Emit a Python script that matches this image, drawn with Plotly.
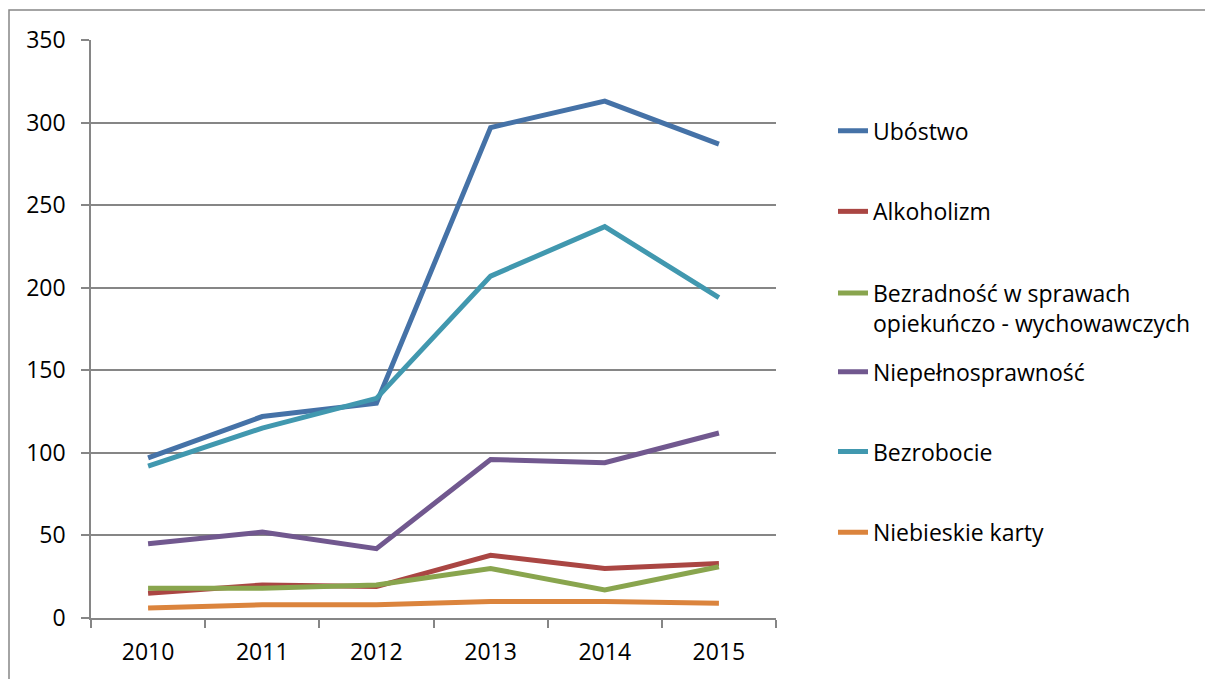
import plotly.graph_objects as go

years = ["2010", "2011", "2012", "2013", "2014", "2015"]

ubostwo = [97, 122, 130, 297, 313, 287]
alkoholizm = [15, 20, 19, 38, 30, 33]
bezradnosc = [18, 18, 20, 30, 17, 31]
niepelnosprawnosc = [45, 52, 42, 96, 94, 112]
bezrobocie = [92, 115, 133, 207, 237, 194]
niebieskie = [6, 8, 8, 10, 10, 9]

names = [
    "Ubóstwo",
    "Alkoholizm",
    "Bezradność w sprawach<br>opiekuńczo - wychowawczych",
    "Niepełnosprawność",
    "Bezrobocie",
    "Niebieskie karty",
]
series = [ubostwo, alkoholizm, bezradnosc, niepelnosprawnosc, bezrobocie, niebieskie]
colors = ["#4572A7", "#AA4643", "#89A54E", "#71588F", "#4198AF", "#DB843D"]

# page has an 8px body margin; figure coordinates = page coordinates - 8
OFF = 8
W, H = 1213 - OFF, 679 - OFF
L, R, T, B = 91 - OFF, 776 - OFF, 40 - OFF, 620 - OFF
pw, ph = R - L, B - T

def px_to_paper_x(px):
    return (px - OFF - L) / pw

def px_to_paper_y(py):
    return (B - (py - OFF)) / ph

legend_centers = [131, 212, 309, 373, 453, 534]

FONT = "Open Sans"
FS = 23
fig = go.Figure()
layout_legends = {}
for i, (nm, vals, col) in enumerate(zip(names, series, colors)):
    key = "legend" if i == 0 else f"legend{i+1}"
    fig.add_trace(go.Scatter(
        x=years, y=vals, mode="lines", name=nm,
        line=dict(color=col, width=5),
        legend=key,
    ))
    layout_legends[key] = dict(
        x=px_to_paper_x(833), xanchor="left",
        y=px_to_paper_y(legend_centers[i]), yanchor="middle",
        bgcolor="rgba(0,0,0,0)", borderwidth=0,
        font=dict(family=FONT, size=FS, color="#000000"),
        valign="top", itemwidth=30,
    )

fig.update_layout(
    width=W, height=H,
    margin=dict(l=L, r=W - R, t=T, b=H - B, pad=0),
    paper_bgcolor="white", plot_bgcolor="white",
    font=dict(family=FONT, size=FS, color="#000000"),
    showlegend=True,
    **layout_legends,
)

fig.update_xaxes(
    type="category", range=[-0.5, 5.5],
    showline=True, linecolor="#868686", linewidth=1.5,
    ticks="outside", tickson="boundaries", ticklen=8, tickcolor="#868686", tickwidth=1.5,
    showgrid=False, zeroline=False, ticklabelstandoff=13,
    tickfont=dict(family=FONT, size=FS, color="#000000"),
)
fig.update_yaxes(
    range=[0, 350], dtick=50, tick0=0,
    showline=True, linecolor="#868686", linewidth=1.5,
    ticks="outside", ticklen=8, tickcolor="#868686", tickwidth=1.5,
    showgrid=True, gridcolor="#868686", gridwidth=1.5,
    zeroline=False, ticklabelstandoff=11,
    tickfont=dict(family=FONT, size=FS, color="#000000"),
)

fig.add_shape(
    type="rect", xref="paper", yref="paper",
    x0=px_to_paper_x(9), x1=px_to_paper_x(1213 + 30),
    y0=px_to_paper_y(679 + 30), y1=px_to_paper_y(10),
    line=dict(color="#868686", width=1.5), fillcolor="rgba(0,0,0,0)",
    layer="below",
)

fig.write_html("out.html")
